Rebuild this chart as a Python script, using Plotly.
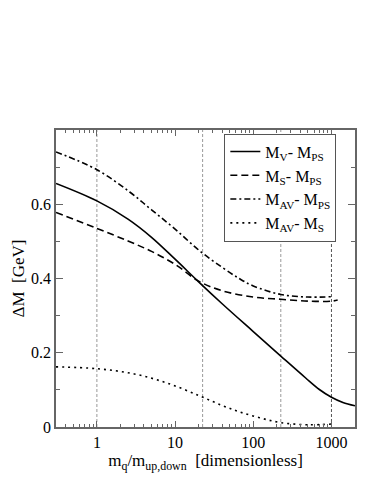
import numpy as np
import plotly.graph_objects as go

# --- data ---
# M_V - M_PS (solid)
x_v_ps = [0.3, 1, 2.5, 5, 10, 20, 40, 100, 225, 468, 700, 1000, 1400, 2000]
y_v_ps = [0.656, 0.609, 0.560, 0.511, 0.452, 0.391, 0.332, 0.257, 0.191, 0.132, 0.101,
          0.080, 0.066, 0.057]

# M_S - M_PS (dashed)
x_s_ps = [0.3, 1, 2.5, 5, 10, 20, 40, 100, 225, 500, 1000, 1200]
y_s_ps = [0.578, 0.535, 0.501, 0.473, 0.438, 0.393, 0.367, 0.350, 0.344, 0.339, 0.339, 0.342]

# M_AV - M_PS (dash-dot)
x_av_ps = [0.3, 1, 2.63, 5, 10, 20.5, 40, 66, 100, 225, 500, 1000]
y_av_ps = [0.741, 0.693, 0.633, 0.585, 0.533, 0.475, 0.430, 0.400, 0.380, 0.357, 0.350, 0.351]

# M_AV - M_S (dotted)
x_av_s = [0.3, 1, 3, 8, 20, 40, 66, 120, 222, 500, 1000]
y_av_s = [0.162, 0.157, 0.143, 0.118, 0.085, 0.058, 0.041, 0.025, 0.012, 0.006, 0.008]

# vertical reference lines (quark mass ratios)
vlines = [1, 22.5, 225, 1000]
vline_colors = ["#999999", "#999999", "#999999", "#555555"]

major_x = [1, 10, 100, 1000]
minor_x = [m * d for d in [0.1, 1, 10, 100, 1000] for m in range(2, 10) if 0.3 <= m * d <= 2000]

FONT = "Times New Roman, Liberation Serif, DejaVu Serif, serif"
FRAME = "#666666"

fig = go.Figure()

# dashed verticals
for v, c in zip(vlines, vline_colors):
    fig.add_trace(go.Scatter(
        x=[v, v], y=[0, 0.8], mode="lines", showlegend=False, hoverinfo="skip",
        line=dict(color=c, width=1, dash="3px,2px"),
    ))

series = [
    (x_v_ps, y_v_ps, "M<sub>V</sub>- M<sub>PS</sub>", "solid"),
    (x_s_ps, y_s_ps, "M<sub>S</sub>- M<sub>PS</sub>", "7px,4px"),
    (x_av_ps, y_av_ps, "M<sub>AV</sub>- M<sub>PS</sub>", "6px,3px,2px,3px"),
    (x_av_s, y_av_s, "M<sub>AV</sub>- M<sub>S</sub>", "2px,4px"),
]
for xs, ys, name, dash in series:
    fig.add_trace(go.Scatter(
        x=xs, y=ys, mode="lines", name=name,
        line=dict(color="black", width=1.6, dash=dash, shape="spline", smoothing=1.0),
    ))

# page body adds an 8px offset, margins are reduced to compensate
fig.update_layout(
    width=374,
    height=484,
    paper_bgcolor="white",
    plot_bgcolor="white",
    margin=dict(l=48, r=27, t=122, b=65, autoexpand=False),
    font=dict(family=FONT, size=16, color="black"),
    showlegend=True,
    legend=dict(
        x=0.563, y=0.988, xanchor="left", yanchor="top",
        bgcolor="white", bordercolor="#555555", borderwidth=1,
        font=dict(family=FONT, size=16),
        itemwidth=30,
    ),
    xaxis=dict(
        type="log",
        range=[np.log10(0.3), np.log10(2000)],
        tickvals=major_x,
        ticktext=["1", "10", "100", "1000"],
        ticks="inside", ticklen=6, tickcolor=FRAME,
        minor=dict(tickvals=minor_x, ticks="inside", ticklen=3, tickcolor=FRAME),
        showline=True, linecolor=FRAME, linewidth=1.5, mirror="allticks",
        showgrid=False, zeroline=False, automargin=False,
        title=dict(text="m<sub>q</sub>/m<sub>up,down</sub>  [dimensionless]",
                   font=dict(family=FONT, size=17), standoff=0),
        tickfont=dict(family=FONT, size=16),
    ),
    yaxis=dict(
        range=[0, 0.8],
        tickvals=[0, 0.2, 0.4, 0.6],
        ticktext=["0", "0.2", "0.4", "0.6"],
        ticks="inside", ticklen=7, tickcolor=FRAME,
        minor=dict(tickvals=[0.1, 0.3, 0.5, 0.7], ticks="inside", ticklen=4, tickcolor=FRAME),
        showline=True, linecolor=FRAME, linewidth=1.5, mirror="allticks",
        showgrid=False, zeroline=False, automargin=False,
        title=dict(text="ΔM  [GeV]", font=dict(family=FONT, size=17), standoff=2),
        tickfont=dict(family=FONT, size=16),
    ),
)

fig.write_html("out.html")
